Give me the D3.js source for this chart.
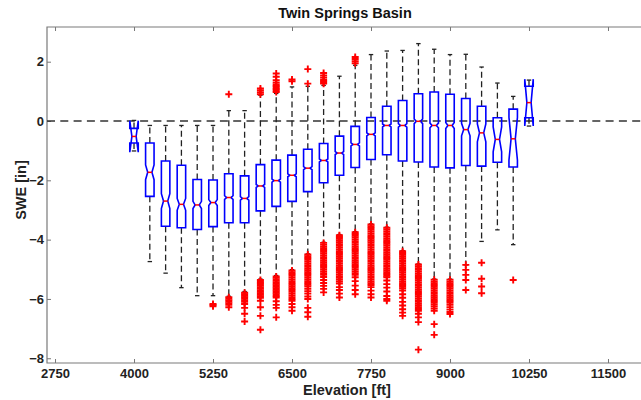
<!DOCTYPE html>
<meta charset="utf-8">
<style>
    body { margin: 0; background: #fff; }
    svg { font-family: "Liberation Sans", Arial, sans-serif; font-weight: bold; }
    .axis text { fill: #222; font-size: 13px; font-weight: bold; }
    .axis line { stroke: #777; stroke-width: 1; }
    .axis path.domain { display: none; }
    .frame { fill: none; stroke: #7a7a7a; stroke-width: 1.2; }
    .zero { stroke: #333; stroke-width: 1.4; stroke-dasharray: 8, 5.3; }
    .whisker { stroke: #222; stroke-width: 1.3; stroke-dasharray: 6, 3.5; }
    .cap { stroke: #222; stroke-width: 1.3; }
    .box { fill: none; stroke: #0000ff; stroke-width: 1.6; }
    .median { stroke: #ff0000; stroke-width: 1.5; }
    .outlier { fill: none; stroke: #ff0000; stroke-width: 1.9; }
</style>
<body>
<script src="https://cdn.jsdelivr.net/npm/d3@7"></script>
<script>

    var elevations = [4000, 4250, 4500, 4750, 5000, 5250, 5500, 5750, 6000, 6250, 6500, 6750, 7000,
                      7250, 7500, 7750, 8000, 8250, 8500, 8750, 9000, 9250, 9500, 9750, 10000, 10250];

    var whiskerHi = [0.02, -0.15, -0.15, -0.15, -0.15, -0.15, 0.35, 0.35, 0.87, 0.93, 1.15, 1.17, 1.2,
                     1.51, 1.88, 2.24, 2.36, 2.38, 2.61, 2.42, 2.24, 2.25, 1.82, 1.28, 0.83, 1.38];
    var q3 = [-0.25, -0.74, -1.35, -1.49, -1.97, -1.99, -1.78, -1.85, -1.47, -1.32, -1.15, -0.95, -0.76,
              -0.51, -0.18, 0.12, 0.50, 0.69, 0.92, 0.98, 0.90, 0.76, 0.50, 0.11, 0.40, 1.17];
    var medians = [-0.52, -1.73, -2.70, -2.81, -2.83, -2.75, -2.58, -2.61, -2.19, -2.01, -1.83, -1.59, -1.33,
                   -1.08, -0.79, -0.45, -0.15, -0.15, -0.01, -0.15, -0.15, -0.29, -0.40, -0.62, -0.60, 0.62];
    var q1 = [-0.74, -2.54, -3.55, -3.60, -3.66, -3.56, -3.43, -3.43, -3.03, -2.88, -2.71, -2.38, -2.08,
              -1.83, -1.57, -1.30, -1.14, -1.35, -1.38, -1.55, -1.58, -1.50, -1.52, -1.39, -1.55, 0.11];
    var whiskerLo = [-1.01, -4.74, -5.13, -5.62, -5.89, -5.89, -5.91, -5.75, -5.33, -5.21, -5.01, -4.48, -4.09,
                     -3.83, -3.73, -3.47, -3.58, -4.37, -4.82, -5.33, -5.33, -4.85, -4.06, -3.67, -4.17, -0.17];
    var notchHalf = [0.53, 0.25, 0.25, 0.2, 0.12, 0.1, 0.06, 0.06, 0.05, 0.05, 0.05, 0.05, 0.05,
                     0.05, 0.05, 0.05, 0.05, 0.06, 0.08, 0.08, 0.1, 0.21, 0.3, 0.42, 0.72, 0.79];

    var outliers = [
        [],
        [],
        [],
        [],
        [],
        [-6.17, -6.21, -6.25],
        [0.90, -5.94, -5.99, -6.04, -6.09, -6.14, -6.2, -6.28],
        [-5.79, -5.84, -5.89, -5.94, -5.99, -6.04, -6.1, -6.17, -6.3, -6.5, -6.76],
        [0.9, 0.97, 1.04, 1.1, -5.36, -5.41, -5.46, -5.51, -5.56, -5.61, -5.66, -5.71, -5.76, -5.81,
         -5.86, -5.91, -5.96, -6.06, -6.28, -6.57, -7.04],
        [0.98, 1.03, 1.08, 1.13, 1.18, 1.23, 1.3, 1.38, 1.49, 1.6, -5.24, -5.29, -5.34, -5.39, -5.44,
         -5.49, -5.54, -5.59, -5.64, -5.69, -5.74, -5.79, -5.84, -5.9, -5.95, -6.08, -6.2, -6.3, -6.62],
        [1.34, 1.40, -5.04, -5.1, -5.16, -5.22, -5.28, -5.34, -5.4, -5.46, -5.52, -5.58, -5.64, -5.7,
         -5.76, -5.82, -5.88, -5.94, -6.0, -6.06, -6.17, -6.28, -6.4],
        [1.26, 1.75, -4.5, -4.56, -4.62, -4.68, -4.74, -4.8, -4.86, -4.92, -4.98, -5.04, -5.1, -5.16,
         -5.22, -5.28, -5.34, -5.4, -5.46, -5.52, -5.58, -5.66, -5.74, -5.82, -5.92, -6.0, -6.3, -6.45, -6.6],
        [1.26, 1.3, 1.35, 1.4, 1.47, 1.54, 1.62, -4.11, -4.17, -4.23, -4.29, -4.35, -4.41, -4.47, -4.53,
         -4.59, -4.65, -4.71, -4.77, -4.83, -4.89, -4.95, -5.01, -5.07, -5.13, -5.19, -5.26, -5.36,
         -5.46, -5.56, -5.66, -5.78],
        [-3.85, -3.91, -3.97, -4.03, -4.09, -4.15, -4.21, -4.27, -4.33, -4.39, -4.45, -4.51, -4.57,
         -4.63, -4.69, -4.75, -4.81, -4.87, -4.93, -4.99, -5.05, -5.11, -5.17, -5.23, -5.29, -5.35,
         -5.41, -5.48, -5.6, -5.7, -5.82, -5.95],
        [1.95, 2.02, 2.09, 2.16, -3.75, -3.81, -3.87, -3.93, -3.99, -4.05, -4.11, -4.17, -4.23, -4.29,
         -4.35, -4.41, -4.47, -4.53, -4.59, -4.65, -4.71, -4.77, -4.83, -4.89, -4.95, -5.01, -5.07,
         -5.13, -5.19, -5.27, -5.4, -5.55, -5.7, -5.84],
        [-3.49, -3.55, -3.61, -3.67, -3.73, -3.79, -3.85, -3.91, -3.97, -4.03, -4.09, -4.15, -4.21,
         -4.27, -4.33, -4.39, -4.45, -4.51, -4.57, -4.63, -4.69, -4.75, -4.81, -4.87, -4.93, -4.99,
         -5.05, -5.11, -5.17, -5.23, -5.29, -5.35, -5.41, -5.47, -5.53, -5.6, -5.72, -5.84, -5.95],
        [-3.6, -3.66, -3.72, -3.78, -3.84, -3.9, -3.96, -4.02, -4.08, -4.14, -4.2, -4.26, -4.32, -4.38,
         -4.44, -4.5, -4.56, -4.62, -4.68, -4.74, -4.8, -4.86, -4.92, -4.98, -5.04, -5.1, -5.16, -5.22,
         -5.27, -5.38, -5.5, -5.62, -5.75, -5.9, -6.0, -6.06],
        [-4.39, -4.45, -4.51, -4.57, -4.63, -4.69, -4.75, -4.81, -4.87, -4.93, -4.99, -5.05, -5.11,
         -5.17, -5.23, -5.29, -5.35, -5.41, -5.47, -5.53, -5.59, -5.65, -5.72, -5.84, -5.96, -6.1,
         -6.22, -6.35, -6.46, -6.57],
        [-4.84, -4.9, -4.96, -5.02, -5.08, -5.14, -5.2, -5.26, -5.32, -5.38, -5.44, -5.5, -5.56, -5.62,
         -5.68, -5.74, -5.8, -5.86, -5.92, -5.98, -6.04, -6.1, -6.16, -6.22, -6.28, -6.34, -6.4, -6.5,
         -6.62, -6.78, -7.71],
        [-5.35, -5.41, -5.47, -5.53, -5.59, -5.65, -5.71, -5.77, -5.83, -5.89, -5.95, -6.01, -6.07,
         -6.13, -6.19, -6.25, -6.32, -6.4, -6.85, -7.21],
        [-5.35, -5.41, -5.47, -5.53, -5.59, -5.65, -5.71, -5.77, -5.83, -5.89, -5.95, -6.01, -6.07,
         -6.13, -6.2, -6.28, -6.36, -6.44, -6.51],
        [-4.85, -5.02, -5.19, -5.36, -5.7],
        [-4.78, -5.32, -5.58, -5.81],
        [],
        [-5.36],
        []
    ];

    var xTicks = [2750, 4000, 5250, 6500, 7750, 9000, 10250, 11500];
    var yTicks = [-8, -6, -4, -2, 0, 2];

    var width = 641, height = 400,
        plotLeft = 47, plotRight = 643, plotTop = 27, plotBottom = 363;

    var x = d3.scaleLinear()
            .domain([2623, 12054])
            .range([plotLeft, plotRight]);

    var y = d3.scaleLinear()
            .domain([-8.16, 3.17])
            .range([plotBottom, plotTop]);

    var boxHalf = 67,   // ft
        capHalf = 35;   // ft

    var svg = d3.select("body").append("svg")
            .attr("width", width)
            .attr("height", height);

    svg.append("g")
            .attr("class", "x axis")
            .attr("transform", "translate(0," + plotBottom + ")")
            .call(d3.axisBottom(x).tickValues(xTicks).tickFormat(d3.format("d"))
                .tickSizeInner(-4).tickSizeOuter(0).tickPadding(6));

    svg.append("g")
            .attr("class", "x axis top")
            .attr("transform", "translate(0," + plotTop + ")")
            .call(d3.axisTop(x).tickValues(xTicks).tickFormat("")
                .tickSizeInner(-4).tickSizeOuter(0));

    svg.append("g")
            .attr("class", "y axis")
            .attr("transform", "translate(" + plotLeft + ",0)")
            .call(d3.axisLeft(y).tickValues(yTicks).tickFormat(d3.format("d"))
                .tickSizeInner(-4).tickSizeOuter(0).tickPadding(3));

    svg.append("path")
            .attr("class", "frame")
            .attr("d", "M" + plotRight + "," + plotTop + "H" + plotLeft + "V" + plotBottom + "H" + plotRight);

    var plot = svg.append("g");

    // dashed zero line
    plot.append("line")
            .attr("class", "zero")
            .attr("x1", plotLeft).attr("x2", plotRight)
            .attr("y1", y(0)).attr("y2", y(0));

    var boxes = plot.selectAll("g.bp")
            .data(elevations)
        .enter().append("g")
            .attr("class", "bp");

    // whiskers
    boxes.append("line")
            .attr("class", "whisker")
            .attr("x1", function(d) { return x(d); })
            .attr("x2", function(d) { return x(d); })
            .attr("y1", function(d, i) { return y(q3[i]); })
            .attr("y2", function(d, i) { return y(whiskerHi[i]); });

    boxes.append("line")
            .attr("class", "whisker")
            .attr("x1", function(d) { return x(d); })
            .attr("x2", function(d) { return x(d); })
            .attr("y1", function(d, i) { return y(q1[i]); })
            .attr("y2", function(d, i) { return y(whiskerLo[i]); });

    boxes.append("line")
            .attr("class", "cap")
            .attr("x1", function(d) { return x(d - capHalf); })
            .attr("x2", function(d) { return x(d + capHalf); })
            .attr("y1", function(d, i) { return y(whiskerHi[i]); })
            .attr("y2", function(d, i) { return y(whiskerHi[i]); });

    boxes.append("line")
            .attr("class", "cap")
            .attr("x1", function(d) { return x(d - capHalf); })
            .attr("x2", function(d) { return x(d + capHalf); })
            .attr("y1", function(d, i) { return y(whiskerLo[i]); })
            .attr("y2", function(d, i) { return y(whiskerLo[i]); });

    // notched boxes, drawn the way matlab's boxplot does it
    var line = d3.line();
    boxes.append("path")
            .attr("class", "box")
            .attr("d", function(d, i) {
                var L = x(d - boxHalf), R = x(d + boxHalf), inset = (R - L) * 0.25,
                    m = y(medians[i]), nlo = y(medians[i] - notchHalf[i]), nhi = y(medians[i] + notchHalf[i]);
                return line([[L, y(q1[i])], [L, nlo], [L + inset, m], [L, nhi], [L, y(q3[i])],
                             [R, y(q3[i])], [R, nhi], [R - inset, m], [R, nlo], [R, y(q1[i])]]) + "Z";
            });

    boxes.append("line")
            .attr("class", "median")
            .attr("x1", function(d) { return x(d - boxHalf * 0.5); })
            .attr("x2", function(d) { return x(d + boxHalf * 0.5); })
            .attr("y1", function(d, i) { return y(medians[i]); })
            .attr("y2", function(d, i) { return y(medians[i]); });

    boxes.selectAll("path.outlier")
            .data(function(d, i) { return outliers[i].map(function(v) { return [d, v]; }); })
        .enter().append("path")
            .attr("class", "outlier")
            .attr("transform", function(p) { return "translate(" + x(p[0]) + "," + y(p[1]) + ")"; })
            .attr("d", "M-3.5,0H3.5M0,-3.5V3.5");

    // titles
    svg.append("text")
            .attr("x", 345).attr("y", 18)
            .attr("text-anchor", "middle")
            .style("font-size", "14.5px")
            .style("fill", "#111")
            .text("Twin Springs Basin");

    svg.append("text")
            .attr("x", 347).attr("y", 395)
            .attr("text-anchor", "middle")
            .style("font-size", "14.5px")
            .style("fill", "#222")
            .text("Elevation [ft]");

    svg.append("text")
            .attr("transform", "translate(26,190) rotate(-90)")
            .attr("text-anchor", "middle")
            .style("font-size", "14.5px")
            .style("fill", "#222")
            .text("SWE [in]");

</script>
